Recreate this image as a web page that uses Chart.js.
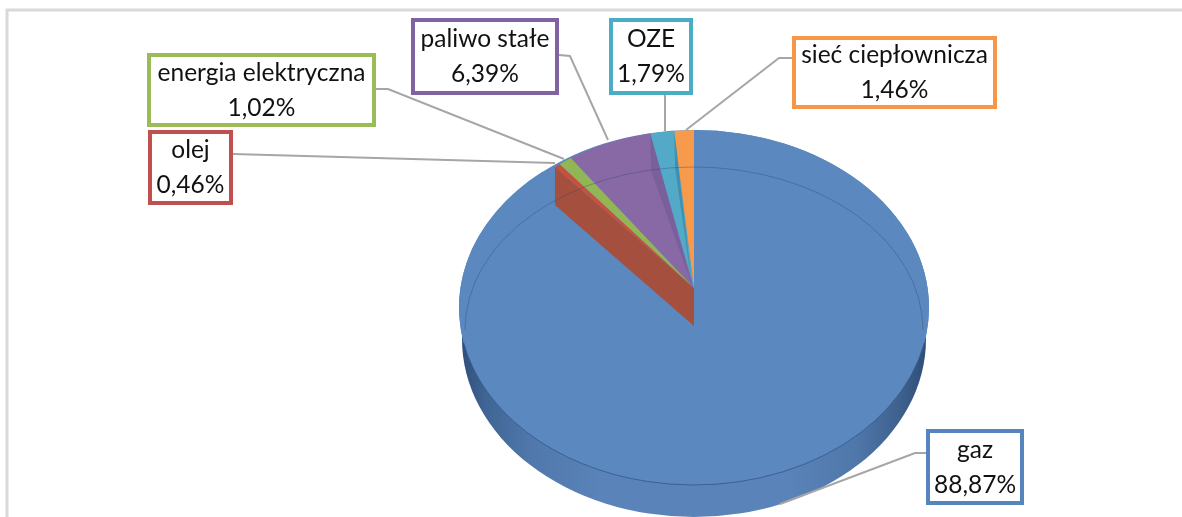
<!DOCTYPE html>
<html>
<head>
<meta charset="utf-8">
<style>
  html, body { margin: 0; padding: 0; background: #fff; }
  #wrap { width: 1182px; height: 517px; overflow: hidden; }
</style>
<script src="https://cdn.jsdelivr.net/npm/chart.js@4"></script>
</head>
<body>
<div id="wrap"><canvas id="chart" width="1182" height="517"></canvas></div>
<script>
const categories = ['gaz', 'olej', 'energia elektryczna', 'paliwo stałe', 'OZE', 'sieć ciepłownicza'];
const shares = [88.87, 0.46, 1.02, 6.39, 1.79, 1.46];
const sliceColors = ['#5B88BF', '#C8503F', '#92B555', '#8869A6', '#53A9C8', '#F79A4B'];
const borderColors = ['#5585BD', '#C0504D', '#9BBB59', '#8064A2', '#4BACC6', '#F79646'];

// label box: x, y, w, h (outer edge of the border)
const boxes = [
  [926, 429, 98, 76],
  [148, 130, 85, 75],
  [147, 53, 229, 74],
  [411, 18, 148, 77],
  [609, 18, 84, 77],
  [792, 36, 205, 73]
];
const leaders = [
  [[926, 453], [915, 453], [780, 504]],
  [[233, 154], [555, 163]],
  [[376, 89], [388, 89], [564, 159]],
  [[559, 55], [570, 56], [608, 140]],
  [[665, 95], [665, 131]],
  [[792, 58], [779, 58], [686, 130]]
];

// the picture is a tilted pie with perspective: the rim ellipse is not centred
// on the apex of the wedges, and the far wedges look narrower
const rim = { y: 307.5, ry: 177.5 };
const wedge = { y: 288, ry: 158, sx: 0.92 };
const side = { y: 339, rx: 232, ry: 178 };
const depth = 38;

function squash(ctx, arc, y, ry, sx) {
  ctx.translate(arc.x, y);
  ctx.scale(sx, ry / arc.outerRadius);
  ctx.translate(-arc.x, -arc.y);
}

function edgePoint(arc, angle) {
  return [arc.x + wedge.sx * arc.outerRadius * Math.cos(angle), wedge.y + wedge.ry * Math.sin(angle)];
}

function fillPoly(ctx, pts, color) {
  ctx.beginPath();
  pts.forEach((p, i) => i ? ctx.lineTo(p[0], p[1]) : ctx.moveTo(p[0], p[1]));
  ctx.closePath();
  ctx.fillStyle = color;
  ctx.fill();
}

const pie3d = {
  id: 'pie3d',
  beforeDraw(chart) {
    const { ctx } = chart;
    ctx.save();
    ctx.strokeStyle = '#D9D9D9';
    ctx.lineWidth = 3;
    ctx.beginPath();
    ctx.moveTo(7, 517);
    ctx.lineTo(7, 10);
    ctx.lineTo(1182, 10);
    ctx.stroke();
    ctx.restore();
  },
  beforeDatasetDraw(chart) {
    const { ctx } = chart;
    const arcs = chart.getDatasetMeta(0).data;
    const first = arcs[0];
    const R = first.outerRadius;

    // side of the disc
    const grad = ctx.createLinearGradient(first.x - side.rx, 0, first.x + side.rx, 0);
    grad.addColorStop(0, '#2F4F7A');
    grad.addColorStop(0.05, '#3F6594');
    grad.addColorStop(0.15, '#5078AC');
    grad.addColorStop(0.3, '#5A83B9');
    grad.addColorStop(0.7, '#5A83B9');
    grad.addColorStop(0.85, '#4F77A9');
    grad.addColorStop(0.95, '#3D5F8C');
    grad.addColorStop(1, '#2F4D78');
    ctx.save();
    ctx.fillStyle = grad;
    ctx.beginPath();
    ctx.ellipse(first.x, side.y, side.rx, side.ry, 0, 0, Math.PI * 2);
    ctx.fill();

    // top face, gaz reaches round the whole rim up to the cut
    ctx.fillStyle = sliceColors[0];
    ctx.beginPath();
    ctx.ellipse(first.x, rim.y, R, rim.ry, 0, 0, Math.PI * 2);
    ctx.fill();
    ctx.restore();

    ctx.save();
    squash(ctx, first, rim.y, rim.ry, 1);
    first.draw(ctx);
    ctx.restore();

    ctx.save();
    ctx.beginPath();
    ctx.ellipse(first.x, rim.y, R, rim.ry, 0, 0, Math.PI * 2);
    ctx.clip();

    // fill the gap the narrowed wedges leave, then the cut wall under olej
    const p = edgePoint(first, arcs[1].startAngle);
    fillPoly(ctx, [p, [first.x, wedge.y], [first.x, wedge.y + depth], [p[0], p[1] + depth]], '#A5503F');

    // the small wedges
    ctx.save();
    squash(ctx, first, wedge.y, wedge.ry, wedge.sx);
    arcs.slice(1).forEach(a => a.draw(ctx));
    ctx.restore();

    // darker walls on paliwo stałe and OZE
    [[3, '#79609B'], [4, '#418FAB']].forEach(([i, color]) => {
      const q = edgePoint(first, arcs[i].endAngle);
      fillPoly(ctx, [q, [q[0] + 1, q[1] + depth], [first.x - 2, wedge.y - 3]], color);
    });

    // faint inner ring
    ctx.lineWidth = 1;
    ctx.strokeStyle = 'rgba(45,70,110,0.35)';
    ctx.beginPath();
    ctx.ellipse(first.x, 330, 229, 163, 0, Math.PI, Math.PI * 2);
    ctx.stroke();
    ctx.restore();

    // front edge of the top face
    ctx.save();
    ctx.lineWidth = 1;
    ctx.strokeStyle = 'rgba(40,70,120,0.6)';
    ctx.beginPath();
    ctx.ellipse(first.x, rim.y, R, rim.ry, 0, 0.2, Math.PI - 0.2);
    ctx.stroke();
    ctx.restore();
    return false;
  },
  afterDatasetsDraw(chart) {
    const { ctx } = chart;
    ctx.save();
    ctx.strokeStyle = '#A6A6A6';
    ctx.lineWidth = 2;
    leaders.forEach(line => {
      ctx.beginPath();
      line.forEach((p, i) => i ? ctx.lineTo(p[0], p[1]) : ctx.moveTo(p[0], p[1]));
      ctx.stroke();
    });
    ctx.font = '24.5px Lato, Carlito, sans-serif';
    ctx.textAlign = 'center';
    ctx.textBaseline = 'middle';
    categories.forEach((name, i) => {
      const [x, y, w, h] = boxes[i];
      ctx.fillStyle = '#fff';
      ctx.fillRect(x, y, w, h);
      ctx.strokeStyle = borderColors[i];
      ctx.lineWidth = 4;
      ctx.strokeRect(x + 2, y + 2, w - 4, h - 4);
      ctx.fillStyle = '#111';
      ctx.fillText(name, x + w / 2, y + h / 2 - 17);
      ctx.fillText(shares[i].toFixed(2).replace('.', ',') + '%', x + w / 2, y + h / 2 + 18);
    });
    ctx.restore();
  }
};

new Chart(document.getElementById('chart'), {
  type: 'pie',
  data: {
    labels: categories,
    datasets: [{ data: shares, backgroundColor: sliceColors, borderWidth: 0 }]
  },
  options: {
    responsive: false,
    animation: false,
    radius: 235,
    layout: { padding: { left: 206 } },
    plugins: { legend: { display: false }, tooltip: { enabled: false } }
  },
  plugins: [pie3d]
});
</script>
</body>
</html>
